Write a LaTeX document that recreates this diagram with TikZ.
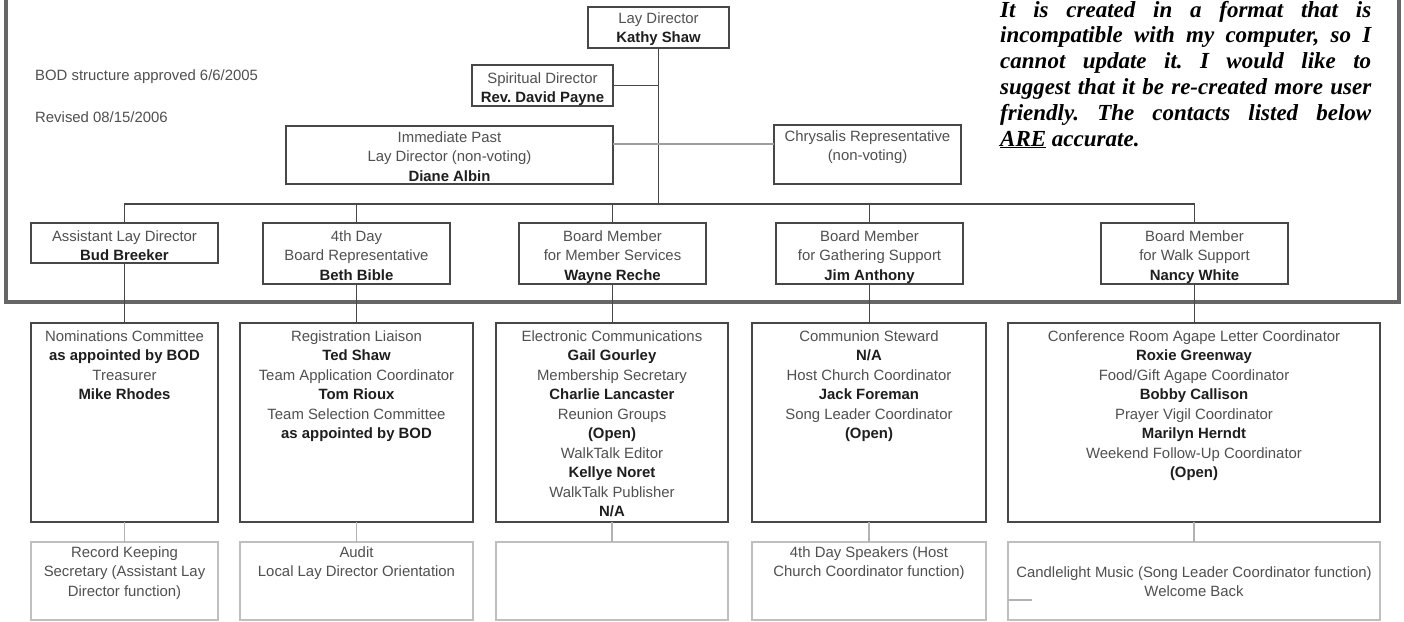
\documentclass[tikz,border=0pt]{standalone}
\usepackage{fontspec}
\setmainfont{Liberation Sans}
\newfontfamily\serifbi{Liberation Serif}
\frenchspacing
\definecolor{txtc}{HTML}{505050}
\definecolor{bldc}{HTML}{1E1E1E}
\newcommand{\nm}[1]{\textcolor{bldc}{\textbf{#1}}}
\newcommand{\bxt}[4]{\parbox[c][#3][t]{#2}{\centering\fontsize{14.9}{19.5}\selectfont\rule{0pt}{#1}#4}}
\tikzset{
  bx/.style={draw=black!72, line width=1.1pt, inner sep=0pt, outer sep=0pt, anchor=north west, text=txtc},
  bxiii/.style={bx, line width=1.5pt},
  bxiv/.style={bx, draw=black!25},
  conn/.style={draw=black!72, line width=1.1pt},
  lconn/.style={draw=black!30, line width=1.1pt},
  frameline/.style={draw=black!60, line width=3.5pt},
  lbl/.style={anchor=base west, inner sep=0pt, text=txtc, font=\fontsize{14.9}{18}\selectfont}
}
\begin{document}
\begin{tikzpicture}[x=1pt, y=-1pt]
\useasboundingbox (0,0) rectangle (1404,621);
\fill[white] (0,0) rectangle (1404,621);
% outer frame
\draw[frameline] (6,-12) rectangle (1399,302);
% top level
\node[bx] (lay) at (588,7) {\bxt{16pt}{141pt}{41pt}{Lay Director\\\nm{Kathy Shaw}}};
\node[bx] (spir) at (472,65) {\bxt{18pt}{141pt}{41pt}{Spiritual Director\\\nm{Rev. David Payne}}};
\node[bx] (past) at (286,126) {\bxt{16pt}{327pt}{58pt}{Immediate Past\\Lay Director (non-voting)\\\nm{Diane Albin}}};
\node[bx] (chrys) at (774,125) {\bxt{16pt}{187pt}{59pt}{Chrysalis Representative\\(non-voting)}};
% left notes
\node[lbl] (approved) at (35,80) {BOD structure approved 6/6/2005};
\node[lbl] (revised) at (35,122) {Revised 08/15/2006};
% right note
\node[anchor=base west, inner sep=0pt, text=black] (note) at (1000,17) {\parbox[t]{371pt}{\serifbi\bfseries\itshape\fontsize{23}{25.8}\selectfont
\makebox[371pt][s]{It is created in a format that is}\\
\makebox[371pt][s]{incompatible with my computer, so I}\\
\makebox[371pt][s]{cannot update it. I would like to}\\
\makebox[371pt][s]{suggest that it be re-created more user}\\
\makebox[371pt][s]{friendly. The contacts listed below}\\
\underline{ARE} accurate.}};
% row 2
\node[bx] (asst) at (31,223) {\bxt{18pt}{187pt}{40pt}{Assistant Lay Director\\\nm{Bud Breeker}}};
\node[bx] (day) at (263,223) {\bxt{18pt}{187pt}{61pt}{4th Day\\Board Representative\\\nm{Beth Bible}}};
\node[bx] (mem) at (519,223) {\bxt{18pt}{187pt}{61pt}{Board Member\\for Member Services\\\nm{Wayne Reche}}};
\node[bx] (gath) at (776,223) {\bxt{18pt}{187pt}{61pt}{Board Member\\for Gathering Support\\\nm{Jim Anthony}}};
\node[bx] (walk) at (1101,223) {\bxt{18pt}{187pt}{61pt}{Board Member\\for Walk Support\\\nm{Nancy White}}};
% row 3
\node[bxiii] (nom) at (31,323) {\bxt{18pt}{187pt}{199pt}{Nominations Committee\\\nm{as appointed by BOD}\\Treasurer\\\nm{Mike Rhodes}}};
\node[bxiii] (reg) at (240,323) {\bxt{18pt}{233pt}{199pt}{Registration Liaison\\\nm{Ted Shaw}\\Team Application Coordinator\\\nm{Tom Rioux}\\Team Selection Committee\\\nm{as appointed by BOD}}};
\node[bxiii] (elec) at (496,323) {\bxt{18pt}{232pt}{199pt}{Electronic Communications\\\nm{Gail Gourley}\\Membership Secretary\\\nm{Charlie Lancaster}\\Reunion Groups\\\nm{(Open)}\\WalkTalk Editor\\\nm{Kellye Noret}\\WalkTalk Publisher\\\nm{N/A}}};
\node[bxiii] (comm) at (752,323) {\bxt{18pt}{234pt}{199pt}{Communion Steward\\\nm{N/A}\\Host Church Coordinator\\\nm{Jack Foreman}\\Song Leader Coordinator\\\nm{(Open)}}};
\node[bxiii] (conf) at (1008,323) {\bxt{18pt}{372pt}{199pt}{Conference Room Agape Letter Coordinator\\\nm{Roxie Greenway}\\Food/Gift Agape Coordinator\\\nm{Bobby Callison}\\Prayer Vigil Coordinator\\\nm{Marilyn Herndt}\\Weekend Follow-Up Coordinator\\\nm{(Open)}}};
% row 4
\node[bxiv] (rk) at (31,542) {\bxt{15pt}{187pt}{78pt}{Record Keeping\\Secretary (Assistant Lay\\Director function)}};
\node[bxiv] (audit) at (240,542) {\bxt{15pt}{233pt}{78pt}{Audit\\Local Lay Director Orientation}};
\node[bxiv] (blank) at (496,542) {\bxt{15pt}{232pt}{78pt}{}};
\node[bxiv] (spk) at (752,542) {\bxt{15pt}{234pt}{78pt}{4th Day Speakers (Host\\Church Coordinator function)}};
\node[bxiv] (cand) at (1008,542) {\bxt{35pt}{372pt}{78pt}{Candlelight Music (Song Leader Coordinator function)\\Welcome Back}};
% connectors top
\coordinate (bus) at (0,204);
\draw[conn] (lay.south) -- (lay.south |- bus);
\draw[conn] (spir.east) -- (spir.east -| lay.south);
\draw[lconn, draw=black!38] ([yshift=11pt]past.east) -- ([yshift=11pt]past.east -| chrys.west);
\draw[conn] (asst.north) -- (asst.north |- bus) -| (walk.north);
\draw[conn] (day.north) -- (day.north |- bus);
\draw[conn] (mem.north) -- (mem.north |- bus);
\draw[conn] (gath.north) -- (gath.north |- bus);
% row 2 to row 3
\draw[conn] (asst.south) -- (asst.south |- nom.north);
\draw[conn] (day.south) -- (day.south |- reg.north);
\draw[conn] (mem.south) -- (mem.south |- elec.north);
\draw[conn] (gath.south) -- (gath.south |- comm.north);
\draw[conn] (walk.south) -- (walk.south |- conf.north);
% row 3 to row 4
\draw[lconn] (nom.south) -- (nom.south |- rk.north);
\draw[lconn] (reg.south) -- (reg.south |- audit.north);
\draw[lconn] (elec.south) -- (elec.south |- blank.north);
\draw[lconn] (comm.south) -- (comm.south |- spk.north);
\draw[lconn] (conf.south) -- (conf.south |- cand.north);
\draw[lconn] ([yshift=-19pt]cand.west) -- ++(24,0);
\end{tikzpicture}
\end{document}
